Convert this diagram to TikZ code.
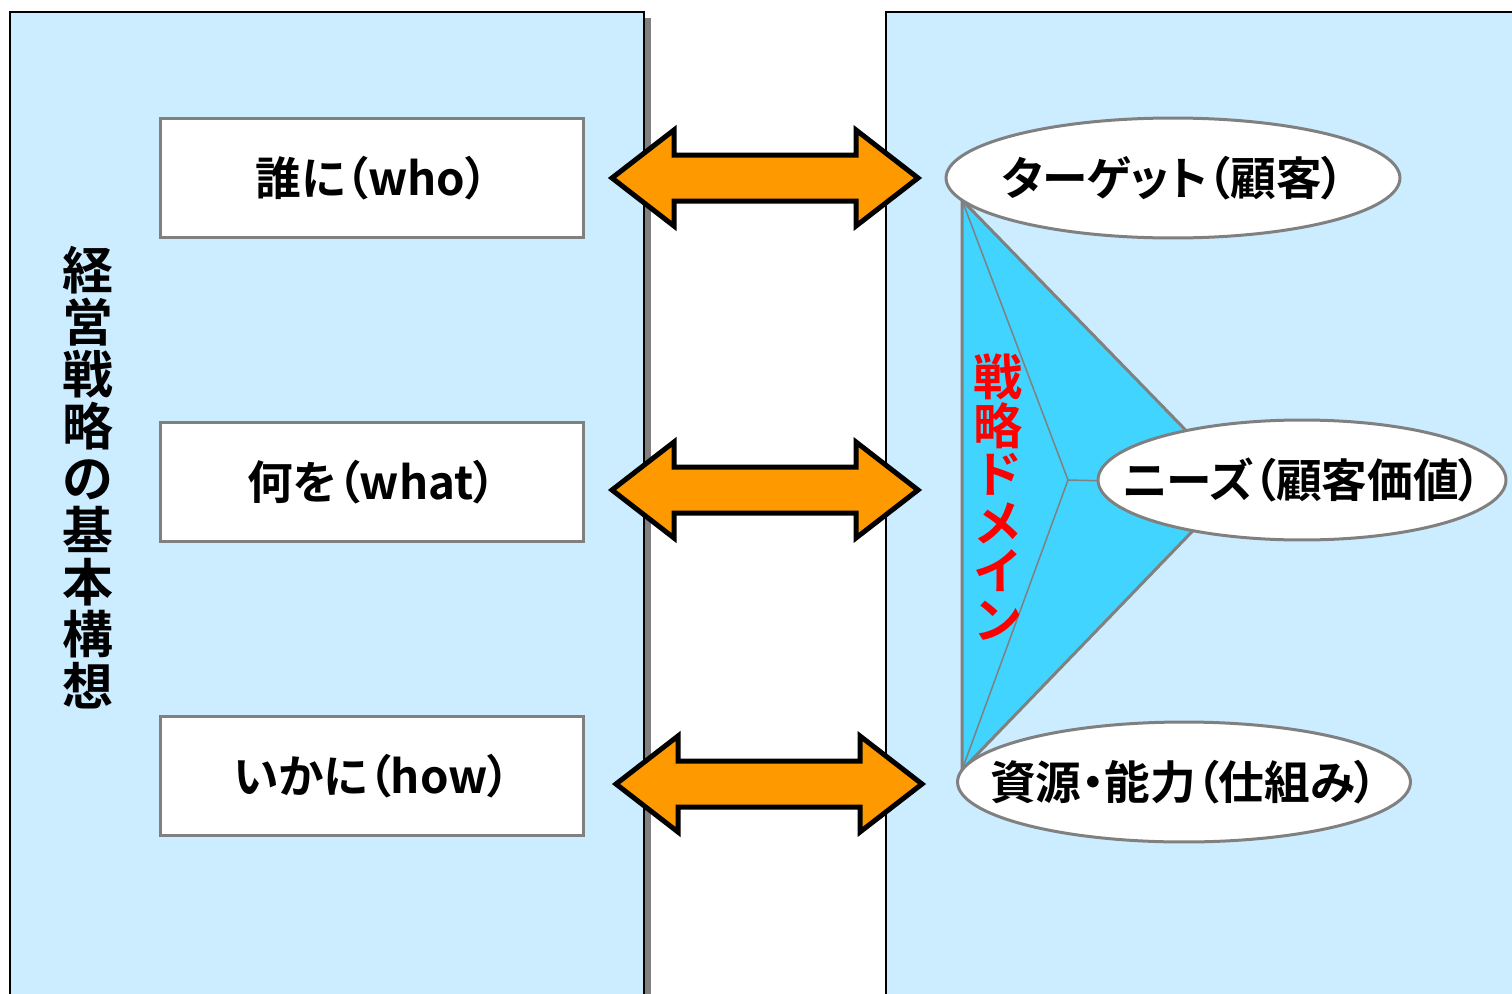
\documentclass[tikz,border=0pt]{standalone}
\usepackage{fontspec}
\newfontfamily\jpfont{Noto Sans CJK JP Bold}
\newfontfamily\jppfont{Noto Sans CJK JP Bold}[RawFeature=+palt]
\usetikzlibrary{shapes.geometric}
\definecolor{panelblue}{HTML}{CCECFF}
\definecolor{domainblue}{HTML}{40D4FF}
\definecolor{arroworange}{HTML}{FF9900}
\definecolor{edgegray}{HTML}{808080}
\tikzstyle{panel}=[draw=black,line width=0.04cm,fill=panelblue]
\tikzstyle{shadow}=[fill=edgegray]
\tikzstyle{box}=[rectangle,draw=edgegray,line width=0.06cm,fill=white,minimum width=8.48cm,minimum height=2.4cm,inner sep=0pt,font=\fontsize{26pt}{30pt}\jppfont]
\tikzstyle{oval}=[ellipse,draw=edgegray,line width=0.06cm,fill=white,minimum height=2.4cm,inner sep=0pt,font=\fontsize{26pt}{30pt}\jppfont]
\tikzstyle{domain area}=[draw=edgegray,line width=0.06cm,fill=domainblue,line join=miter]
\tikzstyle{facet}=[draw=edgegray,line width=0.03cm]
\tikzstyle{link}=[draw=black,line width=0.1cm,fill=arroworange,line join=miter]
\tikzstyle{title}=[align=center,inner sep=0pt,font=\fontsize{29pt}{29.6pt}\jpfont]
\tikzstyle{red stack}=[align=center,inner sep=0pt,text=red,font=\fontsize{28pt}{27.6pt}\jpfont]

\begin{document}
\begin{tikzpicture}[x=0.02cm,y=-0.02cm]

\path[use as bounding box,clip] (0,0) rectangle (1512,994);

% panels
\fill[shadow] (644,18) rectangle (651,1010);
\draw[panel] (10,12) rectangle (644,1010);
\draw[panel] (886,12) rectangle (1540,1010);

% questions
\node (who) [box] at (372,178) {誰に（who）};
\node (what) [box] at (372,482) {何を（what）};
\node (how) [box] at (372,776) {いかに（how）};
\node (concept) [title] at (88,478) {経\\営\\戦\\略\\の\\基\\本\\構\\想};

% arrows
\foreach \a/\b/\y in {612/918/178, 612/918/490, 616/922/784}
  \draw[link] (\a,\y) -- (\a+62,\y-48) -- (\a+62,\y-23) -- (\b-62,\y-23) -- (\b-62,\y-48)
    -- (\b,\y) -- (\b-62,\y+48) -- (\b-62,\y+23) -- (\a+62,\y+23) -- (\a+62,\y+48) -- cycle;

% strategy domain
\coordinate (top) at (962,200);
\coordinate (bottom) at (962,770);
\coordinate (apex) at (1238,484);
\coordinate (core) at (1068,480);
\draw[domain area] (top) -- (apex) -- (bottom) -- cycle;
\draw[facet] (top) -- (core) -- (bottom);
\draw[facet] (core) -- (apex);

\node (target) [oval,minimum width=9.08cm] at (1173,178) {\makebox[0pt]{ターゲット（顧客）}};
\node (needs) [oval,minimum width=8.16cm] at (1302,480) {\makebox[0pt]{ニーズ（顧客価値）}};
\node (resource) [oval,minimum width=9.06cm] at (1184,782) {\makebox[0pt]{資源・能力（仕組み）}};
\node (domain) [red stack] at (998,497) {戦\\略\\ド\\メ\\イ\\ン};

\end{tikzpicture}
\end{document}
